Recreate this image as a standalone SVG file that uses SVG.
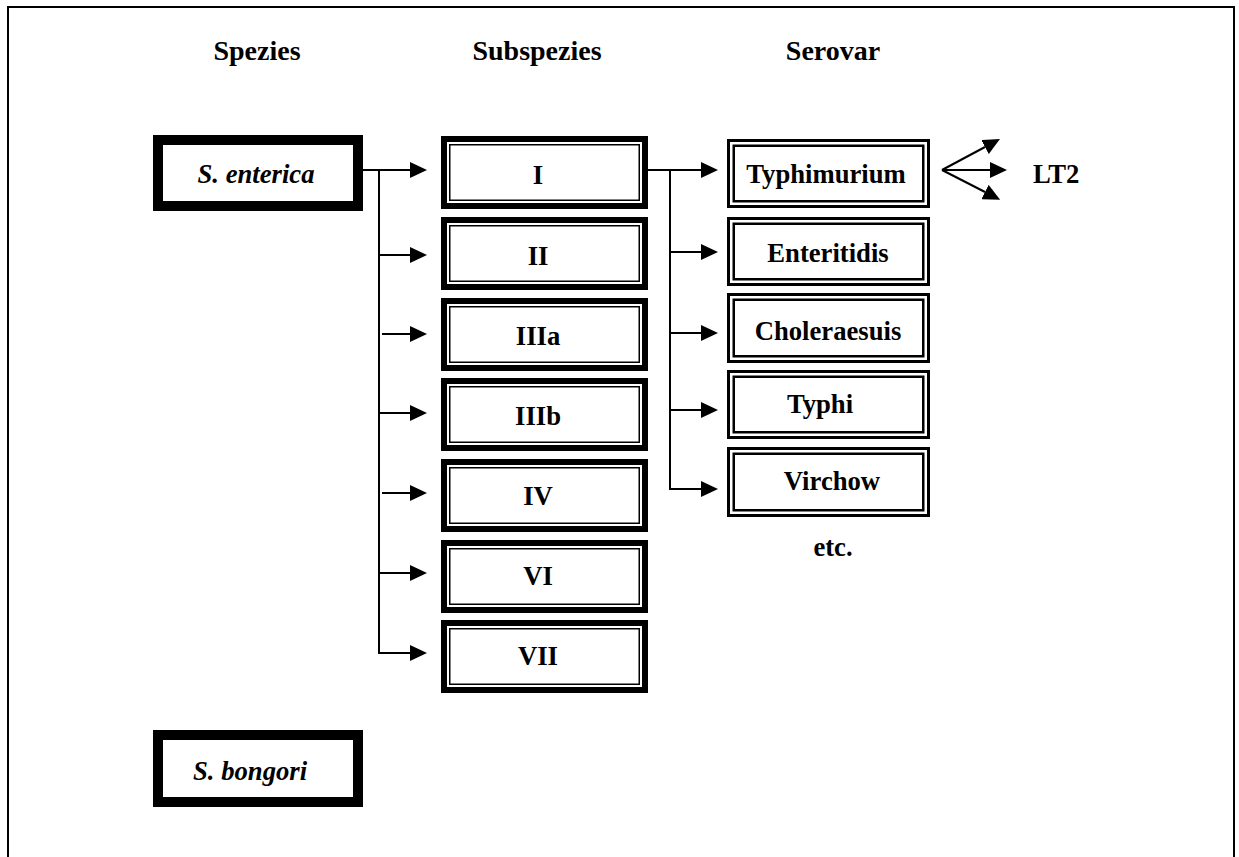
<svg xmlns="http://www.w3.org/2000/svg" width="1239" height="857" viewBox="0 0 1239 857">
<defs>
<style>
text{font-family:"Liberation Serif","Times New Roman",serif;font-weight:bold;font-size:26.67px;fill:#000}
.hdr{font-size:28px;text-anchor:middle}
.c{text-anchor:middle}
.it{font-style:italic}
.sp{fill:#fff;stroke:#000;stroke-width:10}
.so{fill:#fff;stroke:#000;stroke-width:6}
.si{fill:none;stroke:#000;stroke-width:1.5}
.vo{fill:#fff;stroke:#000;stroke-width:3}
.vi{fill:none;stroke:#000;stroke-width:2.5}
.ln{stroke:#000;stroke-width:2;fill:none}
</style>
<marker id="ah" markerUnits="userSpaceOnUse" markerWidth="17" markerHeight="16" refX="0" refY="8" orient="auto">
<path d="M0,0 L17,8 L0,16 z" fill="#000"/>
</marker>
</defs>
<rect width="1239" height="857" fill="#fff"/>
<rect x="8" y="7" width="1226" height="880" fill="none" stroke="#000" stroke-width="2"/>

<g id="headers">
<text class="hdr" x="257" y="60">Spezies</text>
<text class="hdr" x="537" y="60">Subspezies</text>
<text class="hdr" x="833" y="60">Serovar</text>
</g>

<g id="connectors">
<line class="ln" x1="363" y1="170" x2="410" y2="170" marker-end="url(#ah)"/>
<line class="ln" x1="379" y1="170" x2="379" y2="654"/>
<line class="ln" x1="379" y1="255" x2="410" y2="255" marker-end="url(#ah)"/>
<line class="ln" x1="382" y1="334" x2="410" y2="334" marker-end="url(#ah)"/>
<line class="ln" x1="379" y1="413" x2="410" y2="413" marker-end="url(#ah)"/>
<line class="ln" x1="382" y1="493" x2="410" y2="493" marker-end="url(#ah)"/>
<line class="ln" x1="379" y1="573" x2="410" y2="573" marker-end="url(#ah)"/>
<line class="ln" x1="379" y1="653" x2="410" y2="653" marker-end="url(#ah)"/>

<line class="ln" x1="648" y1="170" x2="701" y2="170" marker-end="url(#ah)"/>
<line class="ln" x1="670" y1="170" x2="670" y2="490"/>
<line class="ln" x1="670" y1="252" x2="701" y2="252" marker-end="url(#ah)"/>
<line class="ln" x1="670" y1="333" x2="701" y2="333" marker-end="url(#ah)"/>
<line class="ln" x1="670" y1="410" x2="701" y2="410" marker-end="url(#ah)"/>
<line class="ln" x1="670" y1="489" x2="701" y2="489" marker-end="url(#ah)"/>

<line class="ln" x1="942" y1="170" x2="985" y2="147" marker-end="url(#ah)"/>
<line class="ln" x1="942" y1="170" x2="990" y2="170" marker-end="url(#ah)"/>
<line class="ln" x1="942" y1="170" x2="985" y2="192" marker-end="url(#ah)"/>
</g>

<g id="s-enterica">
<rect class="sp" x="158" y="140" width="200" height="66"/>
<text class="c it" x="256" y="183">S. enterica</text>
</g>
<g id="s-bongori">
<rect class="sp" x="158" y="735" width="200" height="67"/>
<text class="it" x="193" y="780">S. bongori</text>
</g>

<g id="sub-I">
<rect class="so" x="444" y="139" width="201" height="67"/>
<rect class="si" x="449.75" y="144.75" width="189.5" height="55.5"/>
<text class="c" x="538" y="184">I</text>
</g>
<g id="sub-II">
<rect class="so" x="444" y="220" width="201" height="67"/>
<rect class="si" x="449.75" y="225.75" width="189.5" height="55.5"/>
<text class="c" x="538" y="265">II</text>
</g>
<g id="sub-IIIa">
<rect class="so" x="444" y="301" width="201" height="67"/>
<rect class="si" x="449.75" y="306.75" width="189.5" height="55.5"/>
<text class="c" x="538" y="345">IIIa</text>
</g>
<g id="sub-IIIb">
<rect class="so" x="444" y="381" width="201" height="67"/>
<rect class="si" x="449.75" y="386.75" width="189.5" height="55.5"/>
<text class="c" x="538" y="425">IIIb</text>
</g>
<g id="sub-IV">
<rect class="so" x="444" y="462" width="201" height="67"/>
<rect class="si" x="449.75" y="467.75" width="189.5" height="55.5"/>
<text class="c" x="538" y="505">IV</text>
</g>
<g id="sub-VI">
<rect class="so" x="444" y="543" width="201" height="67"/>
<rect class="si" x="449.75" y="548.75" width="189.5" height="55.5"/>
<text class="c" x="538" y="585">VI</text>
</g>
<g id="sub-VII">
<rect class="so" x="444" y="623" width="201" height="67"/>
<rect class="si" x="449.75" y="628.75" width="189.5" height="55.5"/>
<text class="c" x="538" y="665">VII</text>
</g>

<g id="ser-typhimurium">
<rect class="vo" x="728.5" y="140.5" width="200" height="66"/>
<rect class="vi" x="733.75" y="145.75" width="189.5" height="55.5"/>
<text class="c" x="826" y="183">Typhimurium</text>
</g>
<g id="ser-enteritidis">
<rect class="vo" x="728.5" y="218.5" width="200" height="66"/>
<rect class="vi" x="733.75" y="223.75" width="189.5" height="55.5"/>
<text class="c" x="828" y="262">Enteritidis</text>
</g>
<g id="ser-choleraesuis">
<rect class="vo" x="728.5" y="294.5" width="200" height="67"/>
<rect class="vi" x="733.75" y="299.75" width="189.5" height="56.5"/>
<text class="c" x="828" y="340">Choleraesuis</text>
</g>
<g id="ser-typhi">
<rect class="vo" x="728.5" y="371.5" width="200" height="66"/>
<rect class="vi" x="733.75" y="376.75" width="189.5" height="55.5"/>
<text class="c" x="820" y="413">Typhi</text>
</g>
<g id="ser-virchow">
<rect class="vo" x="728.5" y="448.5" width="200" height="67"/>
<rect class="vi" x="733.75" y="453.75" width="189.5" height="56.5"/>
<text class="c" x="832" y="490">Virchow</text>
</g>

<g id="lt2">
<text x="1033" y="183">LT2</text>
</g>
<g id="etc">
<text class="c" x="833" y="556">etc.</text>
</g>
</svg>
